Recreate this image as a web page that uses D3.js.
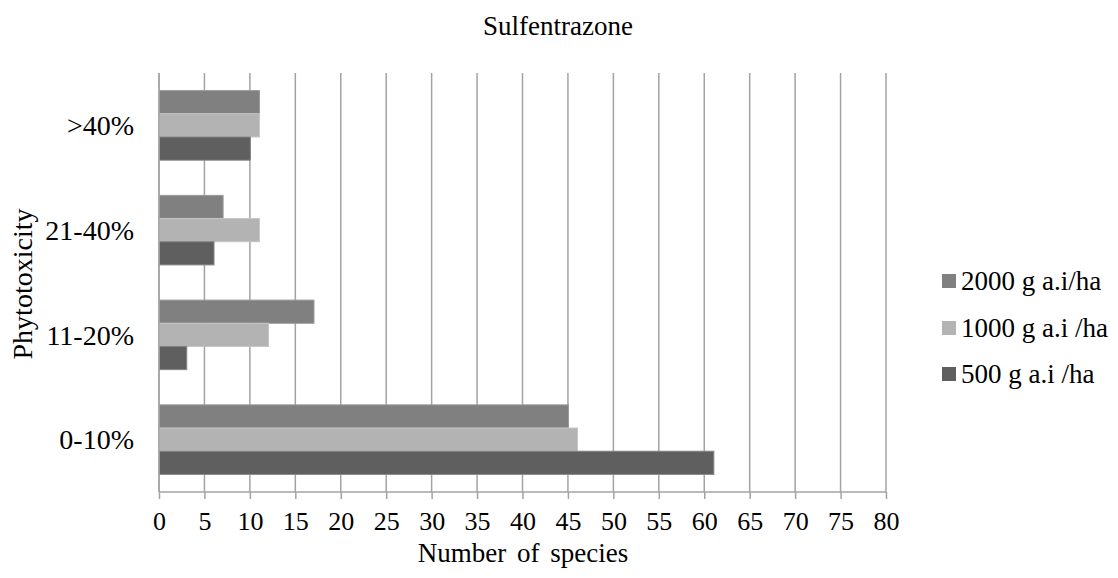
<!DOCTYPE html>
<html>
<head>
<meta charset="utf-8">
<script src="https://cdn.jsdelivr.net/npm/d3@7"></script>
<style>
  html, body { margin: 0; padding: 0; background: #fff; }
  svg { display: block; }
</style>
</head>
<body>
<svg id="chart" width="1118" height="578"></svg>
<script>
const categories = ["0-10%", "11-20%", "21-40%", ">40%"];
const seriesNames = ["2000 g a.i/ha", "1000 g a.i /ha", "500 g a.i /ha"];
const values2000 = [45, 17, 7, 11];
const values1000 = [46, 12, 11, 11];
const values500  = [61, 3, 6, 10];
const xTicks = [0, 5, 10, 15, 20, 25, 30, 35, 40, 45, 50, 55, 60, 65, 70, 75, 80];
const title = "Sulfentrazone";
const xTitle = "Number of species";
const yTitle = "Phytotoxicity";

const seriesValues = [values2000, values1000, values500];
const colors = ["#808080", "#b3b3b3", "#5f5f5f"];
const strokes = ["#9a9a9a", "#c6c6c6", "#858585"];
const FONT = "Liberation Serif";

const svg = d3.select("#chart");
const margin = { left: 159, right: 886, top: 73, bottom: 492 };

const x = d3.scaleLinear().domain([0, 80]).range([margin.left, margin.right]);
const y = d3.scaleBand()
  .domain(categories.slice().reverse())
  .range([margin.top, margin.bottom])
  .paddingInner(0.336)
  .paddingOuter(0.168);
const ySub = d3.scaleBand().domain(seriesNames).range([0, y.bandwidth()]);

// gridlines
svg.append("g")
  .selectAll("line")
  .data(xTicks)
  .join("line")
  .attr("x1", d => x(d)).attr("x2", d => x(d))
  .attr("y1", margin.top).attr("y2", margin.bottom)
  .attr("stroke", "#a3a3a3")
  .attr("stroke-width", 1.5);

// bars
const rows = categories.map((c, i) => ({ cat: c, vals: seriesNames.map((s, j) => ({ s, j, v: seriesValues[j][i] })) }));
svg.append("g").selectAll("g.cat")
  .data(rows)
  .join("g")
  .attr("class", "cat")
  .attr("transform", d => `translate(0,${y(d.cat)})`)
  .selectAll("rect")
  .data(d => d.vals)
  .join("rect")
  .attr("x", x(0) + 0.5)
  .attr("y", d => ySub(d.s))
  .attr("width", d => x(d.v) - x(0))
  .attr("height", ySub.bandwidth())
  .attr("fill", d => colors[d.j])
  .attr("stroke", d => strokes[d.j])
  .attr("stroke-width", 1);

// x axis
const xAxis = d3.axisBottom(x).tickValues(xTicks).tickSize(7).tickPadding(13).tickFormat(d3.format("d"));
const xg = svg.append("g").attr("transform", `translate(0,${margin.bottom})`).call(xAxis);
xg.attr("font-family", FONT).attr("font-size", 26);
xg.select(".domain").attr("stroke", "#a3a3a3").attr("stroke-width", 1.5).attr("d", `M${margin.left},0H${margin.right}`);
xg.selectAll(".tick line").attr("stroke", "#a3a3a3").attr("stroke-width", 1.5);
xg.selectAll(".tick text").attr("fill", "#000");

// y axis line
svg.append("line")
  .attr("x1", x(0)).attr("x2", x(0))
  .attr("y1", margin.top).attr("y2", margin.bottom)
  .attr("stroke", "#a3a3a3").attr("stroke-width", 1.5);

// category labels
svg.append("g")
  .selectAll("text")
  .data(categories)
  .join("text")
  .attr("x", 134)
  .attr("y", d => y(d) + y.bandwidth() / 2)
  .attr("dy", "0.35em")
  .attr("text-anchor", "end")
  .attr("font-family", FONT)
  .attr("font-size", 28)
  .text(d => d);

// titles
svg.append("text").attr("x", 558).attr("y", 35).attr("text-anchor", "middle")
  .attr("font-family", FONT).attr("font-size", 27).text(title);
svg.append("text").attr("x", 523).attr("y", 562).attr("text-anchor", "middle")
  .attr("font-family", FONT).attr("font-size", 27).attr("word-spacing", 4).text(xTitle);
svg.append("text")
  .attr("transform", `translate(32,284) rotate(-90)`)
  .attr("text-anchor", "middle")
  .attr("font-family", FONT).attr("font-size", 28)
  .text(yTitle);

// legend
const legendY = [281, 328, 374];
const lg = svg.append("g");
seriesNames.forEach((s, i) => {
  lg.append("rect").attr("x", 942).attr("y", legendY[i] - 7).attr("width", 14).attr("height", 14).attr("fill", colors[i]);
  lg.append("text").attr("x", 961).attr("y", legendY[i]).attr("dy", "0.35em")
    .attr("font-family", FONT).attr("font-size", 27).text(s);
});
</script>
</body>
</html>
